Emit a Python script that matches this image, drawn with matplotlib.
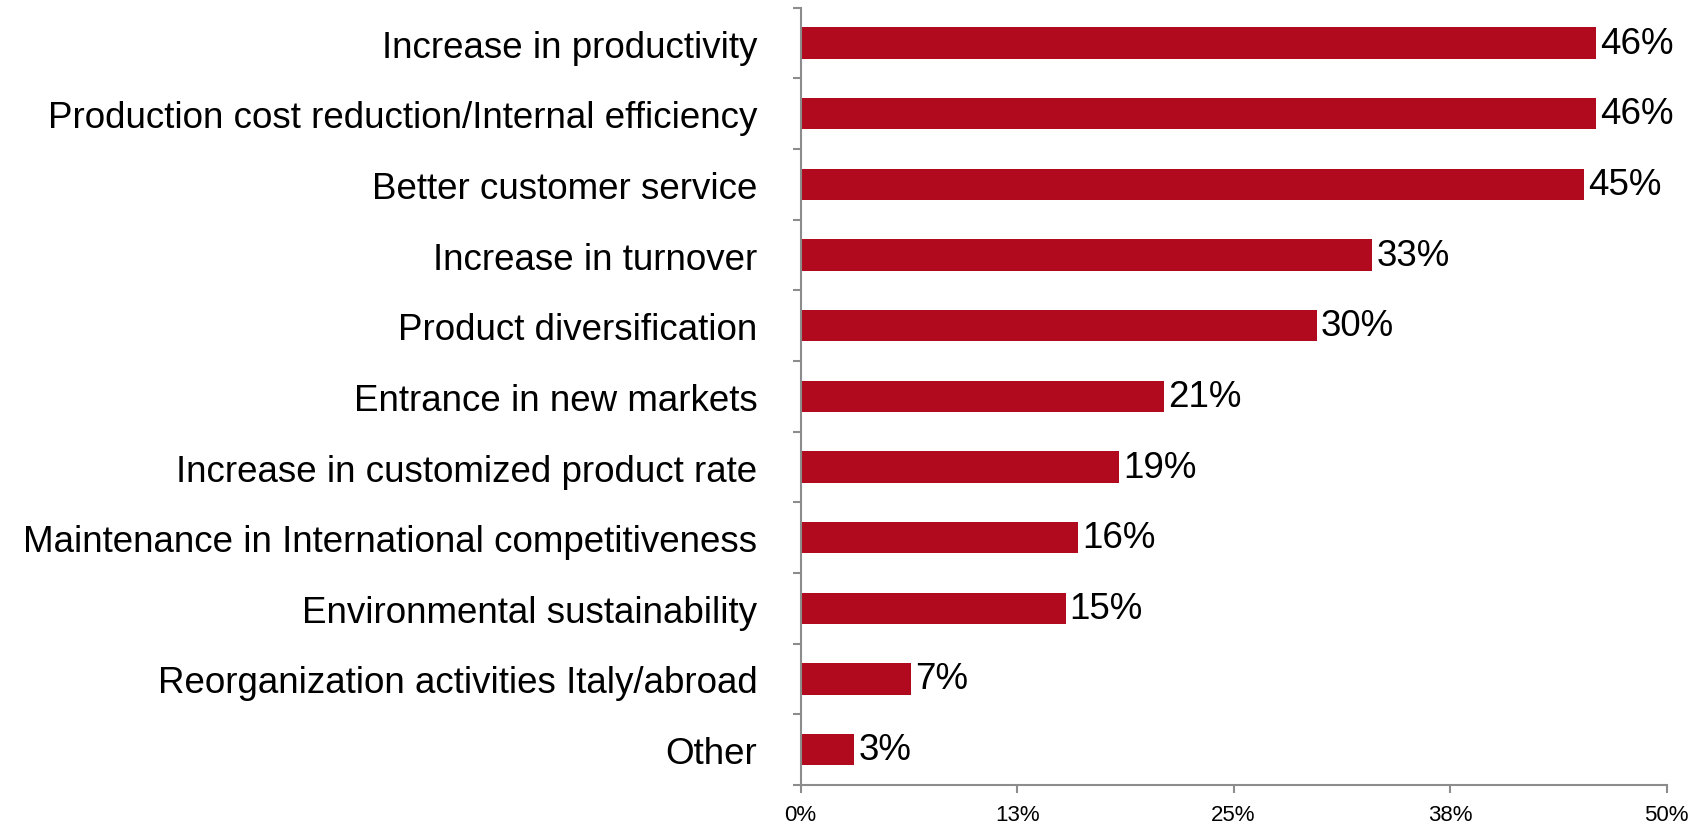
import matplotlib.pyplot as plt
from matplotlib.ticker import FixedLocator

plt.rcParams['font.family'] = ['Liberation Sans', 'DejaVu Sans']

# motivations, top to bottom, with share of respondents (%)
categories = [
    'Increase in productivity',
    'Production cost reduction/Internal efficiency',
    'Better customer service',
    'Increase in turnover',
    'Product diversification',
    'Entrance in new markets',
    'Increase in customized product rate',
    'Maintenance in International competitiveness',
    'Environmental sustainability',
    'Reorganization activities Italy/abroad',
    'Other',
]
values = [45.9, 45.9, 45.2, 33.0, 29.8, 21.0, 18.4, 16.0, 15.3, 6.4, 3.1]
value_labels = ['46%', '46%', '45%', '33%', '30%', '21%', '19%', '16%', '15%', '7%', '3%']
x_ticks = [0, 12.5, 25, 37.5, 50]
x_tick_labels = ['0%', '13%', '25%', '38%', '50%']

bar_color = '#B10A1F'
axis_color = '#8C8C8C'

fig = plt.figure(figsize=(17.08, 8.29), dpi=100)
ax = fig.add_axes([0.4687, 0.0519, 0.5071, 0.9376])

pos = list(range(len(categories)))
bars = ax.barh(pos, values, height=0.44, color=bar_color)

for bar, lab in zip(bars, value_labels):
    ax.annotate(lab, (bar.get_width(), bar.get_y() + bar.get_height() / 2),
                xytext=(3, 0), textcoords='offset points',
                va='center', ha='left', fontsize=26.5)

ax.set_xlim(0, 50)
ax.set_ylim(len(categories) - 0.5, -0.5)

ax.set_yticks(pos)
ax.set_yticklabels(categories, fontsize=26.5)
ax.yaxis.set_minor_locator(FixedLocator([i - 0.5 for i in range(len(categories) + 1)]))
ax.tick_params(axis='y', which='major', length=0, pad=31)
ax.tick_params(axis='y', which='minor', length=6, width=1.5, color=axis_color, direction='out')

ax.set_xticks(x_ticks)
ax.set_xticklabels(x_tick_labels, fontsize=16)
ax.tick_params(axis='x', length=6, width=1.5, color=axis_color, direction='out', pad=8)

for side in ['top', 'right']:
    ax.spines[side].set_visible(False)
for side in ['left', 'bottom']:
    ax.spines[side].set_color(axis_color)
    ax.spines[side].set_linewidth(1.5)

fig.savefig('out.png', dpi=100)
